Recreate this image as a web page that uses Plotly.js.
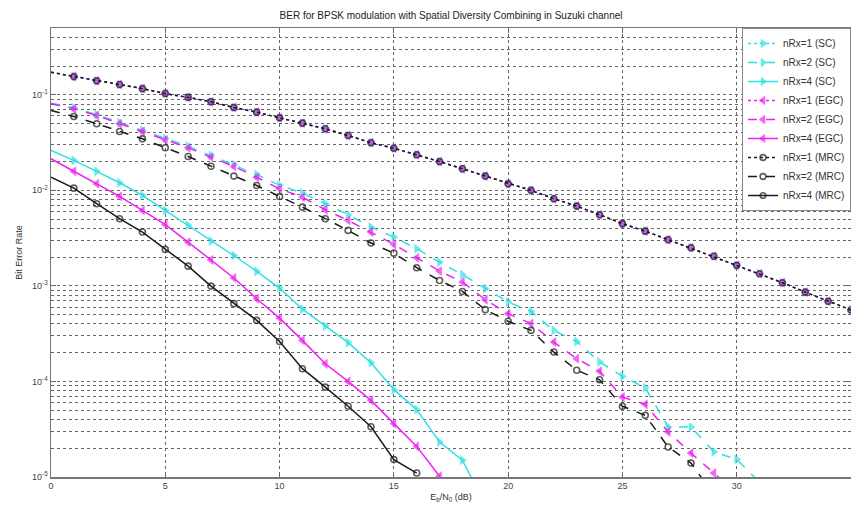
<!DOCTYPE html>
<html>
<head>
<meta charset="utf-8">
<script src="https://cdn.plot.ly/plotly-3.0.1.min.js"></script>
<style>html,body{margin:0;padding:0;background:#fff;overflow:hidden}#chart{width:851px;height:506px}</style>
</head>
<body>
<div id="chart"></div>
<script>
// ---- data ----
const ebn0_dB = [0,1,2,3,4,5,6,7,8,9,10,11,12,13,14,15,16,17,18,19,20,21,22,23,24,25,26,27,28,29,30,31,32,33,34,35];

const ber_SC_1 = [0.172,0.155,0.140,0.128,0.116,0.103,0.094,0.0845,0.0737,0.0658,0.0574,0.0505,0.0441,0.0375,0.0315,0.0276,0.0236,0.0200,0.0168,0.0141,0.0117,0.0100,0.00817,0.00684,0.00556,0.00448,0.00374,0.00304,0.00251,0.00204,0.00164,0.00134,0.00108,0.00086,0.00069,0.00056];
const ber_EGC_1 = [0.172,0.155,0.140,0.128,0.116,0.103,0.094,0.0845,0.0737,0.0658,0.0574,0.0505,0.0441,0.0375,0.0315,0.0276,0.0236,0.0200,0.0168,0.0141,0.0117,0.0100,0.00817,0.00684,0.00556,0.00448,0.00374,0.00304,0.00251,0.00204,0.00164,0.00134,0.00108,0.00086,0.00069,0.00056];
const ber_MRC_1 = [0.172,0.155,0.140,0.128,0.116,0.103,0.094,0.0845,0.0737,0.0658,0.0574,0.0505,0.0441,0.0375,0.0315,0.0276,0.0236,0.0200,0.0168,0.0141,0.0117,0.0100,0.00817,0.00684,0.00556,0.00448,0.00374,0.00304,0.00251,0.00204,0.00164,0.00134,0.00108,0.00086,0.00069,0.00056];

const ber_SC_2 = [0.082,0.073,0.062,0.051,0.0425,0.035,0.029,0.0232,0.0186,0.0146,0.0113,0.00935,0.00724,0.00556,0.00412,0.00324,0.00245,0.00177,0.00131,0.000935,0.000678,0.000541,0.000342,0.000262,0.000160,0.000113,0.0000861,0.0000333,0.0000333,0.0000183,0.0000153,0.0000088];
const ber_EGC_2 = [0.0805,0.0714,0.0607,0.0498,0.0413,0.0338,0.0279,0.0222,0.0178,0.0137,0.0104,0.00849,0.00627,0.00484,0.00366,0.00272,0.00197,0.00143,0.00110,0.000718,0.000512,0.000403,0.000258,0.000173,0.000128,0.0000687,0.0000576,0.0000296,0.0000178,0.0000110,0.0000068];
const ber_MRC_2 = [0.0686,0.0593,0.0498,0.0413,0.0346,0.0279,0.0226,0.0179,0.0141,0.01125,0.00863,0.00667,0.00505,0.00381,0.00281,0.00220,0.00155,0.00114,0.000875,0.000564,0.000426,0.000342,0.000203,0.000131,0.000104,0.0000550,0.0000442,0.0000206,0.0000140,0.0000065];

const ber_SC_4 = [0.0261,0.0206,0.0158,0.0120,0.00885,0.00617,0.00430,0.00294,0.00208,0.00142,0.000950,0.000570,0.000380,0.000255,0.000157,0.0000820,0.0000507,0.0000232,0.0000150,0.0000051];
const ber_EGC_4 = [0.0214,0.0158,0.0117,0.00863,0.00617,0.00437,0.00287,0.00187,0.00121,0.000734,0.000460,0.000269,0.000153,0.000100,0.0000634,0.0000362,0.0000209,0.0000102];
const ber_MRC_4 = [0.0137,0.01054,0.00724,0.00505,0.00366,0.00241,0.00161,0.000995,0.000652,0.000436,0.000262,0.000136,0.0000873,0.0000550,0.0000336,0.0000152,0.0000110];

const seriesNames = ['nRx=1 (SC)','nRx=2 (SC)','nRx=4 (SC)','nRx=1 (EGC)','nRx=2 (EGC)','nRx=4 (EGC)','nRx=1 (MRC)','nRx=2 (MRC)','nRx=4 (MRC)'];
const xTickVals = [0,5,10,15,20,25,30,35];
const yTickVals = [1e-5,1e-4,1e-3,1e-2,1e-1];
const yTickLabels = ['10<sup>-5</sup>','10<sup>-4</sup>','10<sup>-3</sup>','10<sup>-2</sup>','10<sup>-1</sup>'];

// ---- styling ----
const CY = '#2fe0e4', MG = '#ee22ee', BK = '#1a1a1a';
const allY = [ber_SC_1, ber_SC_2, ber_SC_4, ber_EGC_1, ber_EGC_2, ber_EGC_4, ber_MRC_1, ber_MRC_2, ber_MRC_4];
const colors = [CY,CY,CY,MG,MG,MG,BK,BK,BK];
const dashes = ['dot','dash','solid','dot','dash','solid','dot','dash','solid'];
const symbols = ['triangle-right','triangle-right','triangle-right','triangle-left','triangle-left','triangle-left','circle-open','circle-open','circle-open'];
const msize = [8,8,8,8,8,8,6,6,6];

const traces = allY.map((ys, i) => {
  const xs = ebn0_dB.slice(0, ys.length);
  return {
    x: xs, y: ys, type: 'scatter', mode: 'lines+markers', name: seriesNames[i],
    line: {color: colors[i], dash: dashes[i], width: 1.5},
    marker: {symbol: symbols[i], color: colors[i], size: xs.map(v => v === 0 ? 0 : msize[i]),
             line: {color: colors[i], width: symbols[i].indexOf('circle') === 0 ? 1.6 : 0.5}},
    cliponaxis: true
  };
});

// minor grid positions (2..9 x 10^k) for the log axis
const yMinorVals = [];
yTickVals.forEach(d => {
  for (let m = 2; m <= 9; m++) {
    const v = m * d;
    if (v <= 0.5) yMinorVals.push(v);
  }
});

const font = {family: 'Liberation Sans, Arial, sans-serif', size: 9, color: '#333'};
const layout = {
  width: 851, height: 506,
  margin: {l: 51, r: 0, t: 28, b: 29, pad: 0},
  paper_bgcolor: '#fff', plot_bgcolor: '#fff',
  font: font,
  title: {text: 'BER for BPSK modulation with Spatial Diversity Combining in Suzuki channel',
          font: {family: 'Liberation Sans, Arial, sans-serif', size: 10, color: '#222'},
          x: 0.53, xanchor: 'center', y: 0.97, yanchor: 'middle'},
  xaxis: {
    range: [0, 35], tickvals: xTickVals, ticks: 'inside', ticklen: 5, tickcolor: '#666',
    showgrid: true, gridcolor: '#666', griddash: 'dot', gridwidth: 1,
    showline: true, linecolor: '#777', linewidth: 1.5, mirror: 'ticks', zeroline: false,
    tickfont: {size: 9, color: '#444'},
    title: {text: 'E<sub>b</sub>/N<sub>0</sub> (dB)', font: {size: 9, color: '#333'}, standoff: 3},
    automargin: false
  },
  yaxis: {
    type: 'log', range: [-5, Math.log10(0.5)], tickvals: yTickVals, ticktext: yTickLabels,
    ticks: 'inside', ticklen: 5, tickcolor: '#666',
    showgrid: true, gridcolor: '#666', griddash: 'dot', gridwidth: 1,
    minor: {tickvals: yMinorVals, ticks: 'inside', ticklen: 3, tickcolor: '#666',
            showgrid: true, gridcolor: '#666', griddash: 'dot', gridwidth: 1},
    showline: true, linecolor: '#777', linewidth: 1.5, mirror: 'ticks', zeroline: false,
    tickfont: {size: 9, color: '#444'},
    title: {text: 'Bit Error Rate', font: {size: 9, color: '#333'}, standoff: 8},
    automargin: false
  },
  showlegend: true,
  legend: {x: 1, xanchor: 'right', y: 1, yanchor: 'top', bgcolor: '#fff',
           bordercolor: '#888', borderwidth: 1, font: {size: 10, color: '#333'},
           itemwidth: 30, tracegroupgap: 0}
};

Plotly.newPlot('chart', traces, layout, {displayModeBar: false, staticPlot: true});
</script>
</body>
</html>
